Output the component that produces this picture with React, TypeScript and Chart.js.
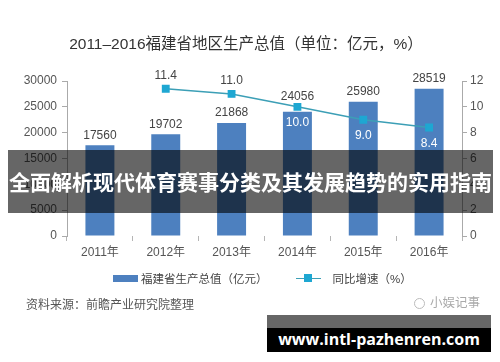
import React, { useEffect, useRef } from "react";
import { Chart, registerables } from "chart.js";

Chart.register(...registerables);

const titleText = "2011–2016福建省地区生产总值（单位：亿元，%）";
const categories = ["2011年", "2012年", "2013年", "2014年", "2015年", "2016年"];
const gdpValues = [17560, 19702, 21868, 24056, 25980, 28519];
const growthValues: (number | null)[] = [null, 11.4, 11.0, 10.0, 9.0, 8.4];
const seriesNames = ["福建省生产总值（亿元）", "同比增速（%）"];
const leftAxis = { min: 0, max: 30000, step: 5000 };
const rightAxis = { min: 0, max: 12, step: 2 };
const sourceText = "资料来源：前瞻产业研究院整理";
const brandText = "小娱记事";
const bannerText = "全面解析现代体育赛事分类及其发展趋势的实用指南";
const urlText = "www.intl-pazhenren.com";

const BAR_COLOR = "#4d80bf";
const LINE_COLOR = "#3c9fb6";
const POINT_COLOR = "#1ea7d2";
const FONT = '"Liberation Sans", "Noto Sans CJK SC", sans-serif';

const labelPlugin = {
  id: "valueLabels",
  afterDatasetsDraw(chart: any) {
    const ctx = chart.ctx;
    const barMeta = chart.getDatasetMeta(0);
    const lineMeta = chart.getDatasetMeta(1);
    ctx.save();
    ctx.font = `12px ${FONT}`;
    ctx.textAlign = "center";
    ctx.textBaseline = "middle";
    barMeta.data.forEach((el: any, i: number) => {
      const pt = lineMeta.data[i];
      const v = growthValues[i];
      // lift the label when the line marker sits right on top of the bar
      let y = el.y - 10;
      if (v !== null && v !== undefined && pt && Math.abs(pt.y - el.y) < 8) y = pt.y - 10;
      ctx.fillStyle = "#444";
      ctx.fillText(String(gdpValues[i]), el.x, y);
    });
    lineMeta.data.forEach((el: any, i: number) => {
      const v = growthValues[i];
      if (v === null || v === undefined) return;
      const barTop = barMeta.data[i].y;
      if (el.y < barTop - 20) {
        ctx.fillStyle = "#444";
        ctx.fillText(v.toFixed(1), el.x, el.y - 13);
      } else {
        ctx.fillStyle = "#ffffff";
        ctx.fillText(v.toFixed(1), el.x, el.y + 16);
      }
    });
    ctx.restore();
  },
};

export default function App() {
  const canvasRef = useRef<HTMLCanvasElement | null>(null);

  useEffect(() => {
    if (!canvasRef.current) return;
    const tickFont = { family: FONT, size: 12 };
    const chart = new Chart(canvasRef.current, {
      type: "bar",
      data: {
        labels: categories,
        datasets: [
          {
            type: "bar",
            label: seriesNames[0],
            data: gdpValues,
            backgroundColor: BAR_COLOR,
            yAxisID: "y",
            barPercentage: 0.44,
            categoryPercentage: 1,
            order: 1,
          },
          {
            type: "line",
            label: seriesNames[1],
            data: growthValues,
            borderColor: LINE_COLOR,
            borderWidth: 1.5,
            backgroundColor: POINT_COLOR,
            pointBackgroundColor: POINT_COLOR,
            pointBorderColor: POINT_COLOR,
            pointStyle: "rect",
            pointRadius: 4.5,
            yAxisID: "y1",
            order: 0,
          },
        ] as any,
      },
      options: {
        responsive: false,
        animation: false,
        devicePixelRatio: 1,
        layout: { padding: { top: 81, left: 0, right: 0, bottom: 0 } },
        plugins: {
          legend: { display: false },
          title: { display: false },
          tooltip: { enabled: false },
        },
        scales: {
          x: {
            grid: {
              display: true,
              drawOnChartArea: false,
              offset: true,
              tickLength: 5,
              color: "#b5b5b5",
            },
            border: { display: false },
            ticks: { font: tickFont, color: "#555", padding: 4 },
            afterFit: (s: any) => {
              s.height = 126;
            },
          },
          y: {
            position: "left",
            min: leftAxis.min,
            max: leftAxis.max,
            ticks: {
              stepSize: leftAxis.step,
              font: tickFont,
              color: "#555",
              padding: 5,
              callback: (v: any) => String(v),
            },
            grid: { drawOnChartArea: false, tickLength: 5, color: "#aaa" },
            border: { display: true, color: "#aaa" },
            afterFit: (s: any) => {
              s.width = 67;
            },
          },
          y1: {
            position: "right",
            min: rightAxis.min,
            max: rightAxis.max,
            ticks: {
              stepSize: rightAxis.step,
              font: tickFont,
              color: "#555",
              padding: 3,
              callback: (v: any) => String(v),
            },
            grid: { drawOnChartArea: false, tickLength: 5, color: "#aaa" },
            border: { display: true, color: "#aaa" },
            afterFit: (s: any) => {
              s.width = 38;
            },
          },
        },
      } as any,
      plugins: [labelPlugin],
    });
    return () => chart.destroy();
  }, []);

  const abs = (o: React.CSSProperties): React.CSSProperties => ({ position: "absolute", ...o });

  return (
    <div
      style={{
        position: "absolute",
        left: 0,
        top: 0,
        width: 500,
        height: 362,
        background: "#fff",
        overflow: "hidden",
        fontFamily: FONT,
      }}
    >
      <canvas ref={canvasRef} width={500} height={362} style={abs({ left: 0, top: 0, width: 500, height: 362 })} />
      <div
        style={abs({
          left: 0,
          width: 492,
          top: 33,
          textAlign: "center",
          fontSize: 15.5,
          color: "#333",
          whiteSpace: "nowrap",
          lineHeight: "22px",
        })}
      >
        {titleText}
      </div>
      <div style={abs({ left: 113, top: 270, height: 16, display: "flex", alignItems: "center", fontSize: 11.5, color: "#444", whiteSpace: "nowrap" })}>
        <span style={{ display: "inline-block", width: 25, height: 7, background: BAR_COLOR, marginRight: 3 }} />
        <span>{seriesNames[0]}</span>
        <span style={{ display: "inline-block", position: "relative", width: 25, height: 9, marginLeft: 28, marginRight: 12 }}>
          <span style={abs({ left: 0, top: 4, width: 25, height: 1.5, background: LINE_COLOR })} />
          <span style={abs({ left: 8.5, top: 0.5, width: 8, height: 8, background: POINT_COLOR })} />
        </span>
        <span>{seriesNames[1]}</span>
      </div>
      <div style={abs({ left: 26, top: 297, fontSize: 12, color: "#555", whiteSpace: "nowrap", lineHeight: "16px" })}>{sourceText}</div>
      <div style={abs({ left: 414, top: 295, fontSize: 12.5, color: "#aaa", whiteSpace: "nowrap", lineHeight: "16px", display: "flex", alignItems: "center" })}>
        <span style={{ display: "inline-block", width: 9, height: 9, borderRadius: "50%", border: "1.5px solid #bbb", marginRight: 5 }} />
        <span>{brandText}</span>
      </div>
      <div
        style={abs({
          left: 8,
          top: 150,
          width: 485,
          height: 63,
          background: "rgba(0,0,0,0.6)",
          color: "#fff",
          fontFamily: '"Noto Sans CJK SC", sans-serif',
          fontWeight: 700,
          fontSize: 21,
          lineHeight: "63px",
          textAlign: "center",
          whiteSpace: "nowrap",
        })}
      >
        {bannerText}
      </div>
      <div style={abs({ left: 267, top: 315, width: 224, height: 13, background: "rgba(0,0,0,0.6)" })} />
      <div
        style={abs({
          left: 267,
          top: 328,
          width: 224,
          height: 24,
          background: "#000",
          color: "#fff",
          fontFamily: '"Open Sans", sans-serif',
          fontWeight: 700,
          fontSize: 16,
          lineHeight: "22px",
          textAlign: "center",
          whiteSpace: "nowrap",
        })}
      >
        {urlText}
      </div>
    </div>
  );
}
